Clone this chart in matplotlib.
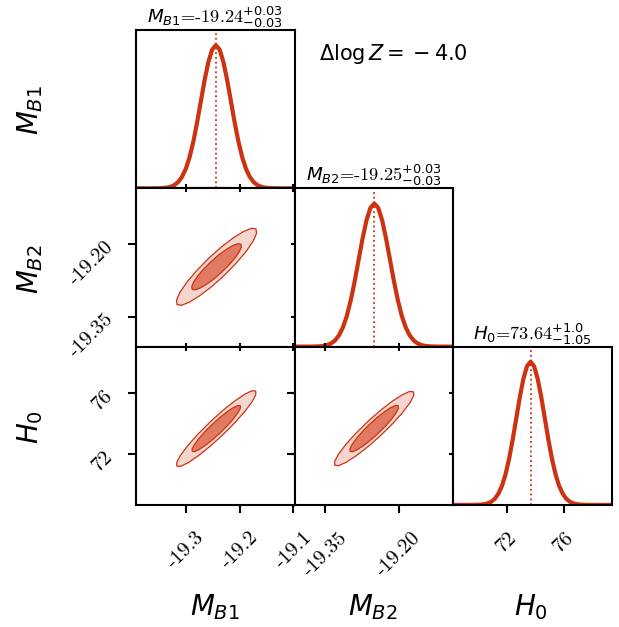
import matplotlib
matplotlib.use('Agg')
import matplotlib.pyplot as plt

plt.rcParams['font.family'] = 'serif'
plt.rcParams['font.serif'] = ['cmr10', 'DejaVu Serif']
plt.rcParams['mathtext.fontset'] = 'dejavusans'
plt.rcParams['axes.unicode_minus'] = False

RED = '#cc3311'
LIGHT = '#f5d6cf'
DARK = '#e07a62'

# 1D marginals (peak scaled to 1)
mb1_x = [-19.3925, -19.356, -19.349, -19.342, -19.335, -19.328, -19.321, -19.314, -19.307,
         -19.300, -19.293, -19.286, -19.279, -19.272, -19.265, -19.258, -19.251, -19.244,
         -19.237, -19.230, -19.223, -19.216, -19.209, -19.202, -19.195, -19.188, -19.181,
         -19.174, -19.167, -19.160, -19.153, -19.146, -19.139, -19.132, -19.0975]
mb2_x = [-19.4126, -19.378, -19.370, -19.362, -19.354, -19.346, -19.338, -19.330, -19.322,
         -19.314, -19.306, -19.298, -19.290, -19.282, -19.274, -19.266, -19.258, -19.250,
         -19.242, -19.234, -19.226, -19.218, -19.210, -19.202, -19.194, -19.186, -19.178,
         -19.170, -19.162, -19.154, -19.146, -19.138, -19.130, -19.122, -19.0885]
h0_x = [68.24, 69.66, 69.91, 70.16, 70.41, 70.66, 70.91, 71.16, 71.41, 71.66, 71.91, 72.16,
        72.41, 72.66, 72.91, 73.16, 73.41, 73.66, 73.91, 74.16, 74.41, 74.66, 74.91, 75.16,
        75.41, 75.66, 75.91, 76.16, 76.41, 76.66, 76.91, 77.16, 77.41, 77.66, 79.39]
mb1_p = [0, 0, 0.001, 0.002, 0.005, 0.011, 0.023, 0.044, 0.080, 0.135, 0.216, 0.325, 0.458,
         0.607, 0.755, 0.882, 0.969, 1.0, 0.969, 0.882, 0.755, 0.607, 0.458, 0.325, 0.216,
         0.135, 0.080, 0.044, 0.023, 0.011, 0.005, 0.002, 0.001, 0, 0]
mb2_p = [0, 0, 0.001, 0.002, 0.005, 0.011, 0.023, 0.044, 0.080, 0.135, 0.216, 0.325, 0.458,
         0.607, 0.755, 0.882, 0.969, 1.0, 0.969, 0.882, 0.755, 0.607, 0.458, 0.325, 0.216,
         0.135, 0.080, 0.044, 0.023, 0.011, 0.005, 0.002, 0.001, 0, 0]
h0_p = [0, 0, 0.001, 0.002, 0.005, 0.011, 0.023, 0.044, 0.080, 0.135, 0.216, 0.325, 0.458,
        0.607, 0.755, 0.882, 0.969, 1.0, 0.969, 0.882, 0.755, 0.607, 0.458, 0.325, 0.216,
        0.135, 0.080, 0.044, 0.023, 0.011, 0.005, 0.002, 0.001, 0, 0]

# 2D contours (95% outer, 68% inner), outlines
a_out_x = [-19.1694, -19.1776, -19.1922, -19.2118, -19.2344, -19.2578, -19.2797, -19.2981,
           -19.3110, -19.3172, -19.3162, -19.3080, -19.2934, -19.2738, -19.2512, -19.2278,
           -19.2059, -19.1875, -19.1746, -19.1684]
a_out_y = [-19.1690, -19.1675, -19.1739, -19.1874, -19.2067, -19.2300, -19.2550, -19.2792,
           -19.3002, -19.3161, -19.3252, -19.3267, -19.3203, -19.3068, -19.2875, -19.2642,
           -19.2392, -19.2150, -19.1940, -19.1781]
a_in_x = [-19.1975, -19.2027, -19.2119, -19.2241, -19.2381, -19.2526, -19.2661, -19.2773,
          -19.2852, -19.2889, -19.2881, -19.2829, -19.2737, -19.2615, -19.2475, -19.2330,
          -19.2195, -19.2083, -19.2004, -19.1967]
a_in_y = [-19.2006, -19.1994, -19.2029, -19.2108, -19.2221, -19.2360, -19.2509, -19.2654,
          -19.2782, -19.2879, -19.2936, -19.2948, -19.2913, -19.2834, -19.2721, -19.2582,
          -19.2433, -19.2288, -19.2160, -19.2063]
b_out_x = [-19.1699, -19.1771, -19.1908, -19.2096, -19.2317, -19.2550, -19.2771, -19.2959,
           -19.3096, -19.3167, -19.3167, -19.3095, -19.2958, -19.2770, -19.2549, -19.2316,
           -19.2095, -19.1907, -19.1770, -19.1699]
b_out_y = [76.132, 76.144, 75.912, 75.460, 74.832, 74.089, 73.305, 72.555, 71.914, 71.443,
           71.190, 71.178, 71.410, 71.862, 72.490, 73.233, 74.017, 74.767, 75.408, 75.879]
b_in_x = [-19.1986, -19.2031, -19.2115, -19.2231, -19.2366, -19.2508, -19.2643, -19.2757,
          -19.2839, -19.2882, -19.2880, -19.2835, -19.2751, -19.2635, -19.2500, -19.2358,
          -19.2223, -19.2109, -19.2027, -19.1984]
b_in_y = [75.164, 75.175, 75.039, 74.767, 74.388, 73.937, 73.459, 73.001, 72.608, 72.317,
          72.159, 72.147, 72.283, 72.555, 72.934, 73.385, 73.863, 74.321, 74.714, 75.005]
c_out_x = [-19.1698, -19.1778, -19.1929, -19.2136, -19.2379, -19.2635, -19.2877, -19.3083,
           -19.3232, -19.3309, -19.3308, -19.3228, -19.3077, -19.2870, -19.2627, -19.2371,
           -19.2129, -19.1923, -19.1774, -19.1697]
c_out_y = [76.076, 76.100, 75.884, 75.452, 74.844, 74.120, 73.351, 72.613, 71.977, 71.506,
           71.246, 71.222, 71.438, 71.870, 72.478, 73.202, 73.971, 74.709, 75.345, 75.816]
c_in_x = [-19.2011, -19.2062, -19.2156, -19.2284, -19.2434, -19.2590, -19.2738, -19.2863,
          -19.2953, -19.2998, -19.2995, -19.2944, -19.2850, -19.2722, -19.2572, -19.2416,
          -19.2268, -19.2143, -19.2053, -19.2008]
c_in_y = [75.164, 75.184, 75.056, 74.790, 74.415, 73.966, 73.486, 73.024, 72.624, 72.326,
          72.158, 72.138, 72.266, 72.532, 72.907, 73.356, 73.836, 74.298, 74.698, 74.996]

names = [r'$M_{B1}$', r'$M_{B2}$', r'$H_0$']
means = [-19.2437, -19.25, 73.66]
titles = [r'$M_{B1}$=-19.24$^{+0.03}_{-0.03}$',
          r'$M_{B2}$=-19.25$^{+0.03}_{-0.03}$',
          r'$H_0$=73.64$^{+1.0}_{-1.05}$']
ticks = [[-19.3, -19.2, -19.1], [-19.35, -19.20], [72, 76]]
ticklabels = [['-19.3', '-19.2', '-19.1'], ['-19.35', '-19.20'], ['72', '76']]
xlims = [(-19.3925, -19.0975), (-19.4126, -19.0885), (68.24, 79.39)]
ylims = [None, (-19.412, -19.085), (68.64, 79.05)]
dlogz = -4.0

curves = [(mb1_x, mb1_p), (mb2_x, mb2_p), (h0_x, h0_p)]
contours = {(1, 0): ((a_out_x, a_out_y), (a_in_x, a_in_y)),
            (2, 0): ((b_out_x, b_out_y), (b_in_x, b_in_y)),
            (2, 1): ((c_out_x, c_out_y), (c_in_x, c_in_y))}

fig = plt.figure(figsize=(6.19, 6.27), dpi=100)
left, top = 136 / 619, 1 - 30 / 627
W, H = 158.7 / 619, 158.3 / 627

for i in range(3):
    for j in range(i + 1):
        ax = fig.add_axes([left + j * W, top - (i + 1) * H, W, H])
        for s in ax.spines.values():
            s.set_linewidth(1.5)
        ax.set_xlim(xlims[j])
        ax.set_xticks(ticks[j])
        if i == j:
            x, p = curves[i]
            ax.plot(x, p, color=RED, lw=3, solid_joinstyle='round')
            ax.axvline(means[i], color=RED, lw=1.3, ls=':')
            ax.set_ylim(0, 1.106)
            ax.set_yticks([])
            ax.set_title(titles[i], fontsize=13.2, pad=3)
        else:
            outer, inner = contours[(i, j)]
            ax.fill(outer[0], outer[1], facecolor=LIGHT, edgecolor=RED, lw=0.9)
            ax.fill(inner[0], inner[1], facecolor=DARK, edgecolor=RED, lw=0.9)
            ax.set_ylim(ylims[i])
            ax.set_yticks(ticks[i])
            ax.tick_params(top=True, right=True)
        ax.tick_params(direction='out', length=5.5, width=1.5, labelsize=15)
        ax.tick_params(axis='x', pad=11.5)
        ax.tick_params(axis='y', pad=13)
        if i == 2:
            ax.set_xticklabels(ticklabels[j], rotation=45)
        else:
            ax.set_xticklabels([])
        if j == 0 and i > 0:
            ax.set_yticklabels(ticklabels[i])
            for lab in ax.get_yticklabels():
                lab.set_rotation(45)
                lab.set_rotation_mode('anchor')
                lab.set_ha('right')
                lab.set_va('center')
        elif i != j:
            ax.set_yticklabels([])
        if i != j:
            # ticks on the inner top/right edges straddle the spine
            for t in ax.xaxis.get_major_ticks():
                t.tick2line.set_marker('|')
            for t in ax.yaxis.get_major_ticks():
                t.tick2line.set_marker('_')

fig.text(319 / 619, 1 - 60 / 627, r'$\Delta\log Z = {} - %.1f$' % abs(dlogz), fontsize=15,
         ha='left', va='baseline')
for k, xc in enumerate([215, 373, 531]):
    fig.text(xc / 619, 1 - 607 / 627, names[k], fontsize=20, ha='center', va='center')
for k, yc in enumerate([110, 269, 427]):
    fig.text(30 / 619, 1 - yc / 627, names[k], fontsize=20, ha='center', va='center',
             rotation=90)

fig.savefig('out.png', dpi=100)
